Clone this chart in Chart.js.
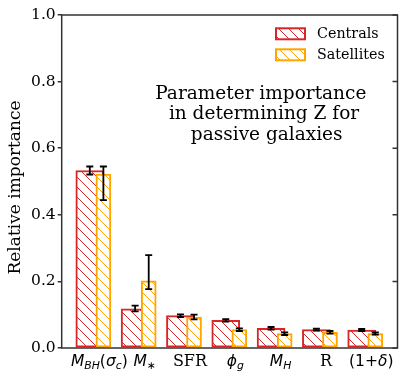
<!DOCTYPE html>
<html><head><meta charset="utf-8">
<script src="https://cdn.jsdelivr.net/npm/chart.js@4/dist/chart.umd.min.js"></script>
<style>html,body{margin:0;padding:0;background:#fff;overflow:hidden}canvas{display:block}</style>
</head><body>
<canvas id="c" width="407" height="381"></canvas>
<script>
// ---- data ----
const categories = ['M_BH(sigma_c)', 'M_*', 'SFR', 'phi_g', 'M_H', 'R', '(1+delta)'];
const centrals      = [0.533, 0.118, 0.097, 0.083, 0.059, 0.055, 0.054];
const centralsLow   = [0.521, 0.110, 0.093, 0.079, 0.055, 0.052, 0.051];
const centralsHigh  = [0.545, 0.127, 0.101, 0.087, 0.063, 0.058, 0.057];
const satellites     = [0.522, 0.202, 0.093, 0.055, 0.043, 0.047, 0.043];
const satellitesLow  = [0.444, 0.177, 0.086, 0.051, 0.039, 0.043, 0.040];
const satellitesHigh = [0.545, 0.279, 0.100, 0.059, 0.047, 0.051, 0.047];
const yTicks = [0.0, 0.2, 0.4, 0.6, 0.8, 1.0];
const seriesNames = ['Centrals', 'Satellites'];
const titleLines = ['Parameter importance', 'in determining Z for', 'passive galaxies'];
const yTitle = 'Relative importance';
// tick labels as rich runs: m = 'i' math italic, 'r' math roman, 's' serif, 'si' subscript italic, 'sr' subscript roman
const tickLabels = [
  [['M','i'],['BH','si'],['(','r'],['σ','i'],['c','si'],[')','r']],
  [['M','i'],['∗','sr']],
  [['SFR','s']],
  [['ϕ','i'],['g','si']],
  [['M','i'],['H','si']],
  [['R','s']],
  [['(1+','r'],['δ','i'],[')','r']]
];

// ---- styles ----
const RED = '#d62728', ORANGE = '#ffa500';
const SERIF = '"DejaVu Serif", serif';
const SANS = '"DejaVu Sans", sans-serif';

function hatch(color) {
  const s = 10;
  const c = document.createElement('canvas'); c.width = s; c.height = s;
  const g = c.getContext('2d');
  g.fillStyle = '#fff'; g.fillRect(0, 0, s, s);
  g.strokeStyle = color; g.lineWidth = 1;
  g.beginPath();
  g.moveTo(-2, -2); g.lineTo(s + 2, s + 2);
  g.moveTo(-2, s - 2); g.lineTo(2, s + 2);
  g.moveTo(s - 2, -2); g.lineTo(s + 2, 2);
  g.stroke();
  return g.createPattern(c, 'repeat');
}
const redHatch = hatch(RED), orangeHatch = hatch(ORANGE);

const satOffset = 0.3, labelOffset = 0.21;

const errPlugin = {
  id: 'errs',
  afterDatasetsDraw(chart) {
    const ctx = chart.ctx, ys = chart.scales.y;
    ctx.save();
    ctx.strokeStyle = '#000'; ctx.lineWidth = 1.8;
    [[0, centralsLow, centralsHigh], [1, satellitesLow, satellitesHigh]].forEach(([di, lo, hi]) => {
      chart.getDatasetMeta(di).data.forEach((el, i) => {
        const x = el.x, y1 = ys.getPixelForValue(lo[i]), y2 = ys.getPixelForValue(hi[i]);
        ctx.beginPath();
        ctx.moveTo(x, y1); ctx.lineTo(x, y2);
        ctx.moveTo(x - 3.5, y1); ctx.lineTo(x + 3.5, y1);
        ctx.moveTo(x - 3.5, y2); ctx.lineTo(x + 3.5, y2);
        ctx.stroke();
      });
    });
    ctx.restore();
  }
};

const decorPlugin = {
  id: 'decor',
  afterDraw(chart) {
    const ctx = chart.ctx, a = chart.chartArea, ys = chart.scales.y, xs = chart.scales.x;
    ctx.save();
    // frame
    ctx.strokeStyle = '#333'; ctx.lineWidth = 1.5;
    ctx.strokeRect(a.left, a.top, a.right - a.left, a.bottom - a.top);
    // right inward ticks
    ctx.beginPath();
    yTicks.forEach(v => { const y = ys.getPixelForValue(v); ctx.moveTo(a.right, y); ctx.lineTo(a.right - 5, y); });
    ctx.stroke();
    // x tick labels (rich)
    ctx.fillStyle = '#000'; ctx.textBaseline = 'alphabetic';
    const fs = 15.5, base = 365.7;
    const fontFor = m => m === 'i' ? `italic ${fs}px ${SANS}` : m === 'r' ? `${fs}px ${SANS}` :
      m === 's' ? `${fs + 0.5}px ${SERIF}` : m === 'si' ? `italic ${fs * 0.7}px ${SANS}` : `${fs * 0.7}px ${SANS}`;
    tickLabels.forEach((runs, i) => {
      let w = 0;
      runs.forEach(([t, m]) => { ctx.font = fontFor(m); w += ctx.measureText(t).width; });
      let x = xs.getPixelForValue(i + labelOffset) - w / 2;
      runs.forEach(([t, m]) => {
        ctx.font = fontFor(m);
        const dy = (m === 'si' || m === 'sr') ? 3.5 : 0;
        ctx.textAlign = 'left';
        ctx.fillText(t, x, base + dy);
        x += ctx.measureText(t).width;
      });
    });
    // y title
    ctx.save();
    ctx.translate(16, 187.5); ctx.rotate(-Math.PI / 2);
    ctx.font = `17px ${SERIF}`; ctx.textAlign = 'center'; ctx.textBaseline = 'middle';
    ctx.fillText(yTitle, 0, 0);
    ctx.restore();
    // title text
    ctx.font = `18.5px ${SERIF}`; ctx.textAlign = 'center'; ctx.textBaseline = 'alphabetic';
    const tx = [260.8, 264, 266.7], ty = [98.7, 119.3, 140];
    titleLines.forEach((t, i) => ctx.fillText(t, tx[i], ty[i]));
    // legend
    const items = [[RED, redHatch, 28.3], [ORANGE, orangeHatch, 49.3]];
    ctx.font = `14.3px ${SERIF}`; ctx.textAlign = 'left';
    items.forEach(([col, pat, y], i) => {
      ctx.fillStyle = pat; ctx.fillRect(276, y, 29, 11);
      ctx.strokeStyle = col; ctx.lineWidth = 2; ctx.strokeRect(276, y, 29, 11);
      ctx.fillStyle = '#000'; ctx.fillText(seriesNames[i], 317, y + 10);
    });
    ctx.restore();
  }
};

new Chart(document.getElementById('c'), {
  type: 'bar',
  data: {
    datasets: [
      { label: seriesNames[0], data: centrals.map((v, i) => ({ x: i, y: v })),
        backgroundColor: redHatch, borderColor: RED, borderWidth: 2, borderSkipped: false,
        barThickness: 28, grouped: false, order: 2 },
      { label: seriesNames[1], data: satellites.map((v, i) => ({ x: i + satOffset, y: v })),
        backgroundColor: orangeHatch, borderColor: ORANGE, borderWidth: 2, borderSkipped: false,
        barThickness: 15, grouped: false, order: 1 }
    ]
  },
  options: {
    responsive: false, animation: false, devicePixelRatio: 1,
    layout: { padding: { top: 15, right: 9.5, left: 0, bottom: 0 } },
    plugins: { legend: { display: false }, tooltip: { enabled: false } },
    scales: {
      x: { type: 'linear', min: -0.62, max: 6.79, offset: false,
        grid: { display: false, offset: false }, border: { display: false },
        ticks: { display: false },
        afterFit: s => { s.height = 33; } },
      y: { min: 0, max: 1,
        afterBuildTicks: s => { s.ticks = yTicks.map(v => ({ value: v })); },
        ticks: { callback: v => Number(v).toFixed(1), color: '#000', padding: 2,
          font: { family: SERIF, size: 15.5 } },
        grid: { drawOnChartArea: false, drawTicks: true, tickLength: 4, color: '#333', lineWidth: 1.5 },
        border: { display: false },
        title: { display: false },
        afterFit: s => { s.width = 61.7; } }
    }
  },
  plugins: [errPlugin, decorPlugin]
});
</script>
</body></html>
